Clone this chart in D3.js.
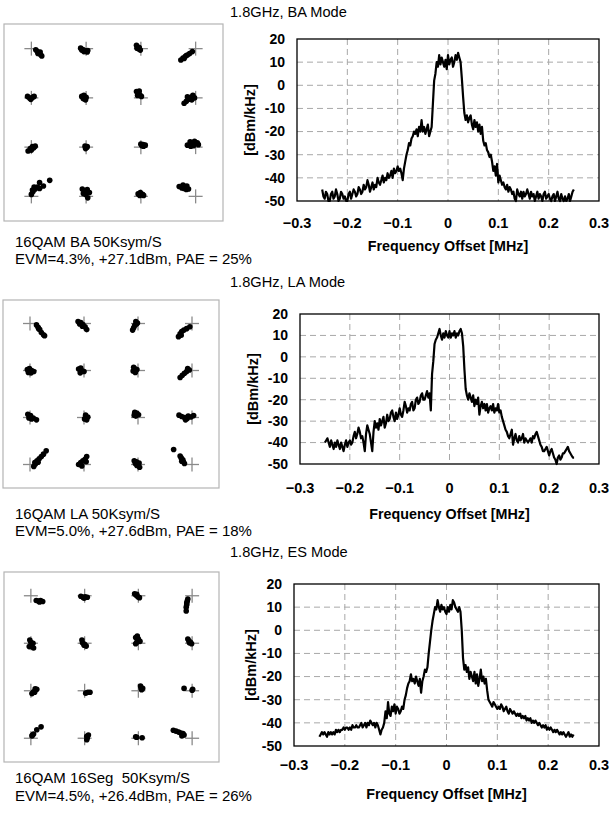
<!DOCTYPE html>
<html>
<head>
<meta charset="utf-8">
<script src="https://cdn.jsdelivr.net/npm/d3@7"></script>
<style>
  body { margin: 0; background: #fff; }
  svg { display: block; font-family: "Liberation Sans", Arial, sans-serif; }
</style>
</head>
<body>
<div id="chart"></div>
<script>
const width = 610;
const height = 816;

// frequency offset grid [MHz]
const freqMHz = [
  -0.2500,-0.2475,-0.2450,-0.2425,-0.2400,-0.2375,-0.2350,-0.2325,-0.2300,-0.2275,-0.2250,-0.2225,-0.2200,-0.2175,-0.2150,-0.2125,-0.2100,-0.2075,-0.2050,-0.2025,
  -0.2000,-0.1975,-0.1950,-0.1925,-0.1900,-0.1875,-0.1850,-0.1825,-0.1800,-0.1775,-0.1750,-0.1725,-0.1700,-0.1675,-0.1650,-0.1625,-0.1600,-0.1575,-0.1550,-0.1525,
  -0.1500,-0.1475,-0.1450,-0.1425,-0.1400,-0.1375,-0.1350,-0.1325,-0.1300,-0.1275,-0.1250,-0.1225,-0.1200,-0.1175,-0.1150,-0.1125,-0.1100,-0.1075,-0.1050,-0.1025,
  -0.1000,-0.0975,-0.0950,-0.0925,-0.0900,-0.0875,-0.0850,-0.0825,-0.0800,-0.0775,-0.0750,-0.0725,-0.0700,-0.0675,-0.0650,-0.0625,-0.0600,-0.0575,-0.0550,-0.0525,
  -0.0500,-0.0475,-0.0450,-0.0425,-0.0400,-0.0375,-0.0350,-0.0325,-0.0300,-0.0275,-0.0250,-0.0225,-0.0200,-0.0175,-0.0150,-0.0125,-0.0100,-0.0075,-0.0050,-0.0025,
  0.0000,0.0025,0.0050,0.0075,0.0100,0.0125,0.0150,0.0175,0.0200,0.0225,0.0250,0.0275,0.0300,0.0325,0.0350,0.0375,0.0400,0.0425,0.0450,0.0475,
  0.0500,0.0525,0.0550,0.0575,0.0600,0.0625,0.0650,0.0675,0.0700,0.0725,0.0750,0.0775,0.0800,0.0825,0.0850,0.0875,0.0900,0.0925,0.0950,0.0975,
  0.1000,0.1025,0.1050,0.1075,0.1100,0.1125,0.1150,0.1175,0.1200,0.1225,0.1250,0.1275,0.1300,0.1325,0.1350,0.1375,0.1400,0.1425,0.1450,0.1475,
  0.1500,0.1525,0.1550,0.1575,0.1600,0.1625,0.1650,0.1675,0.1700,0.1725,0.1750,0.1775,0.1800,0.1825,0.1850,0.1875,0.1900,0.1925,0.1950,0.1975,
  0.2000,0.2025,0.2050,0.2075,0.2100,0.2125,0.2150,0.2175,0.2200,0.2225,0.2250,0.2275,0.2300,0.2325,0.2350,0.2375,0.2400,0.2425,0.2450,0.2475,
  0.2500];

// spectra [dBm/kHz]
const psdBA = [
  -45,-48,-49,-46,-47,-50,-50,-47,-46,-49,-48,-45,-47,-50,-49,-46,-47,-49,-48,-50,
  -50,-47,-46,-49,-47,-45,-46,-48,-47,-44,-45,-47,-46,-43,-45,-44,-41,-43,-46,-44,
  -42,-45,-43,-44,-40,-42,-43,-41,-39,-42,-40,-41,-38,-40,-39,-37,-40,-36,-38,-37,
  -35,-37,-36,-38,-41,-36,-33,-30,-28,-25,-26,-23,-22,-20,-21,-19,-22,-18,-20,-15,
  -20,-18,-21,-19,-17,-22,-20,-18,-8,2,5,10,8,13,9,12,10,8,11,7,
  13,9,11,12,8,10,13,11,14,12,10,3,-5,-12,-15,-13,-16,-14,-13,-17,
  -19,-15,-18,-16,-20,-17,-21,-18,-24,-26,-25,-28,-29,-31,-30,-33,-37,-35,-39,-34,
  -42,-39,-41,-43,-42,-44,-45,-43,-46,-44,-45,-47,-46,-49,-50,-45,-47,-48,-46,-49,
  -46,-48,-47,-45,-47,-49,-46,-48,-47,-50,-48,-46,-49,-47,-48,-50,-47,-46,-49,-48,
  -47,-49,-50,-48,-47,-50,-48,-46,-49,-50,-47,-49,-50,-48,-50,-49,-47,-50,-48,-46,
  -45];

const psdLA = [
  -40,-39,-38,-40,-42,-39,-41,-43,-40,-42,-39,-41,-43,-40,-42,-44,-41,-39,-42,-40,
  -39,-41,-40,-37,-35,-38,-36,-33,-35,-38,-37,-40,-44,-36,-32,-34,-36,-40,-44,-35,
  -30,-33,-31,-34,-29,-32,-30,-28,-33,-31,-27,-30,-29,-26,-25,-28,-30,-26,-29,-27,
  -24,-27,-28,-25,-21,-23,-26,-24,-25,-22,-21,-25,-24,-20,-19,-22,-21,-18,-17,-20,
  -20,-18,-16,-19,-17,-25,-8,-2,6,8,9,11,13,10,8,11,9,12,10,9,
  12,9,11,10,12,9,11,10,12,13,11,5,-6,-15,-18,-20,-17,-19,-21,-18,
  -23,-20,-22,-19,-27,-23,-21,-24,-22,-25,-22,-26,-24,-23,-25,-22,-26,-24,-25,-22,
  -26,-25,-28,-30,-32,-34,-35,-37,-38,-36,-34,-41,-38,-36,-39,-40,-37,-39,-38,-36,
  -40,-38,-39,-40,-39,-38,-40,-37,-38,-36,-35,-37,-39,-41,-42,-44,-44,-43,-42,-44,
  -46,-44,-43,-45,-47,-48,-50,-47,-46,-48,-47,-45,-45,-44,-43,-42,-44,-45,-46,-47,
  -47];

const psdES = [
  -46,-45,-44,-45,-44,-45,-46,-44,-45,-44,-45,-44,-45,-43,-44,-43,-44,-43,-43,-42,
  -43,-42,-42,-43,-42,-43,-41,-42,-42,-41,-42,-42,-41,-40,-42,-41,-40,-42,-40,-41,
  -39,-40,-41,-40,-42,-40,-41,-43,-45,-43,-42,-40,-35,-38,-31,-36,-37,-33,-35,-32,
  -36,-33,-34,-36,-35,-33,-34,-30,-28,-25,-23,-22,-19,-22,-21,-23,-20,-22,-24,-21,
  -27,-22,-20,-17,-18,-16,-10,-5,0,4,7,10,9,13,10,8,11,9,10,8,
  7,10,8,11,9,13,12,10,9,8,10,8,0,-12,-17,-15,-18,-16,-21,-18,
  -20,-22,-18,-23,-19,-24,-21,-17,-22,-20,-23,-21,-26,-30,-31,-32,-33,-31,-32,-33,
  -34,-33,-34,-32,-33,-35,-34,-33,-35,-36,-34,-35,-36,-35,-36,-37,-36,-37,-36,-38,
  -37,-38,-37,-39,-38,-39,-38,-40,-39,-40,-39,-40,-41,-40,-41,-42,-41,-42,-41,-43,
  -42,-43,-42,-43,-44,-43,-44,-43,-44,-45,-44,-45,-44,-45,-46,-45,-44,-46,-45,-46,
  -45];

// ideal 16QAM levels
const qamLevels = [-3, -1, 1, 3];

// measured constellation symbols [I, Q]
const constBA = [
  [-2.84,2.95],[-2.78,2.88],[-2.72,2.82],[-2.66,2.75],[-2.62,2.70],[-2.76,2.80],[-2.68,2.86],
  [-1.20,3.02],[-1.12,2.96],[-1.04,2.92],[-0.96,2.86],[-1.08,2.88],[-0.94,2.92],[-1.16,2.94],
  [0.84,3.14],[0.88,3.06],[0.92,2.98],[0.98,2.94],[0.86,3.02],[0.94,3.04],
  [2.46,2.54],[2.54,2.62],[2.62,2.68],[2.70,2.74],[2.78,2.80],[2.88,2.88],[2.66,2.72],[2.58,2.60],
  [-3.14,1.06],[-3.06,0.98],[-2.96,1.02],[-2.90,1.06],[-3.02,0.94],
  [-1.16,1.06],[-1.08,1.10],[-1.00,1.02],[-1.10,0.96],[-1.02,0.92],
  [0.84,1.26],[0.90,1.20],[0.96,1.12],[1.02,1.06],[0.88,1.10],[0.94,1.28],
  [2.58,0.78],[2.66,0.86],[2.74,0.94],[2.82,1.02],[2.90,1.10],[2.70,1.04],[2.86,0.92],[2.96,1.00],
  [-3.12,-1.16],[-3.04,-1.06],[-2.96,-0.98],[-2.86,-0.96],[-2.92,-1.04],[-3.00,-1.12],
  [-1.04,-0.96],[-0.98,-1.02],[-1.02,-1.06],[-0.96,-0.98],
  [1.00,-0.88],[1.08,-0.90],[1.16,-0.92],[1.10,-0.96],[1.04,-0.94],
  [2.70,-0.92],[2.80,-0.78],[2.88,-0.84],[2.96,-0.76],[3.06,-0.82],[2.92,-0.94],[2.82,-0.96],[3.10,-0.90],
  [-3.00,-2.92],[-2.94,-2.80],[-2.86,-2.70],[-2.78,-2.62],[-2.90,-2.62],[-2.70,-2.68],[-2.96,-2.74],
  [-2.70,-2.44],[-2.56,-2.58],[-2.33,-2.35],
  [-1.14,-2.70],[-1.06,-2.78],[-0.96,-2.72],[-0.88,-2.84],[-1.02,-2.92],[-0.94,-3.06],[-1.10,-2.88],
  [0.90,-2.90],[0.98,-2.84],[1.06,-2.92],[0.96,-2.96],[1.10,-2.96],
  [2.40,-2.60],[2.50,-2.66],[2.58,-2.68],[2.66,-2.72],[2.74,-2.70],[2.68,-2.58],[2.54,-2.54]
];

const constLA = [
  [-2.76,2.94],[-2.70,2.84],[-2.64,2.74],[-2.58,2.62],[-2.50,2.52],[-2.46,2.48],[-2.68,2.78],
  [-1.22,3.08],[-1.12,3.04],[-1.04,2.96],[-0.96,2.86],[-0.90,2.74],[-1.06,2.88],[-1.16,2.98],
  [0.92,3.08],[0.98,3.02],[0.88,2.92],[0.84,2.82],[0.80,2.72],[0.94,2.98],
  [2.50,2.44],[2.56,2.56],[2.62,2.66],[2.70,2.72],[2.80,2.78],[2.92,2.86],[2.60,2.50],
  [-3.10,1.04],[-3.02,1.08],[-2.94,1.00],[-2.86,0.96],[-3.06,0.92],[-2.96,0.90],
  [-1.20,1.06],[-1.12,1.10],[-1.06,0.98],[-1.14,0.90],[-1.00,0.96],
  [0.84,1.14],[0.90,1.06],[0.82,0.98],[0.90,0.92],[0.96,1.04],
  [2.56,0.70],[2.64,0.80],[2.72,0.88],[2.80,0.96],[2.90,1.02],[2.84,1.08],
  [-3.08,-0.86],[-2.98,-0.92],[-2.88,-1.02],[-2.76,-1.10],[-3.04,-1.02],[-2.94,-1.06],
  [-0.94,-0.90],[-0.86,-0.98],[-0.90,-1.10],[-0.98,-1.06],
  [0.88,-0.78],[0.96,-0.82],[0.92,-0.94],[1.02,-0.88],[0.86,-0.90],
  [2.52,-0.90],[2.62,-0.96],[2.72,-1.00],[2.82,-1.04],[2.96,-0.98],[3.06,-0.92],[2.86,-0.94],[2.76,-1.10],
  [-2.86,-3.08],[-2.82,-2.92],[-2.74,-2.84],[-2.66,-2.76],[-2.58,-2.66],[-2.50,-2.56],[-2.40,-2.42],[-2.80,-2.98],[-2.70,-2.90],
  [-1.20,-3.00],[-1.12,-2.92],[-1.04,-2.84],[-0.92,-2.88],[-0.90,-2.66],[-0.96,-2.78],[-1.08,-3.06],
  [0.86,-2.84],[0.94,-2.88],[1.04,-2.94],[0.96,-3.04],[1.06,-3.12],[0.90,-2.96],
  [2.32,-2.36],[2.56,-2.64],[2.60,-2.72],[2.66,-2.80],[2.68,-2.88],[2.72,-2.96],[2.62,-2.86]
];

const constES = [
  [-2.80,2.80],[-2.72,2.78],[-2.64,2.80],[-2.56,2.76],[-2.68,2.74],
  [-1.14,2.98],[-1.06,2.94],[-0.98,2.96],[-0.90,2.94],[-1.02,2.90],
  [0.86,3.08],[0.92,3.02],[0.98,2.96],[1.04,2.92],[0.94,3.06],
  [2.84,2.86],[2.82,2.78],[2.80,2.70],[2.80,2.62],[2.78,2.52],[2.78,2.36],
  [-3.04,1.14],[-3.00,1.04],[-2.96,0.94],[-2.90,0.80],[-3.06,0.86],[-2.92,1.00],
  [-1.10,1.14],[-1.08,1.02],[-1.02,0.92],[-0.94,0.88],[-1.00,0.96],
  [0.90,1.24],[0.96,1.30],[1.00,1.18],[0.94,1.04],[0.90,0.98],[1.06,1.08],
  [2.84,1.18],[2.88,1.10],[2.94,1.04],[2.98,0.98],[2.90,1.02],
  [-2.96,-1.12],[-2.90,-1.04],[-2.84,-0.92],[-2.78,-0.94],[-2.86,-1.06],
  [-0.96,-1.10],[-0.88,-1.06],[-0.80,-1.06],
  [1.08,-0.80],[1.10,-0.88],[1.12,-0.96],[1.16,-0.90],
  [2.70,-0.90],[3.02,-0.94],[3.00,-0.98],
  [-2.94,-2.86],[-2.90,-2.82],[-2.78,-2.64],[-2.62,-2.52],[-2.96,-2.90],
  [-0.92,-2.92],[-0.90,-2.98],[-0.92,-3.06],[-0.86,-2.86],
  [0.94,-2.96],[0.90,-2.94],[1.14,-2.98],
  [2.30,-2.66],[2.40,-2.70],[2.50,-2.74],[2.58,-2.78],[2.66,-2.80],[2.70,-2.86],[2.62,-2.90]
];

const titles = ["1.8GHz, BA Mode", "1.8GHz, LA Mode", "1.8GHz, ES Mode"];
const captions = [
  ["16QAM BA 50Ksym/S", "EVM=4.3%, +27.1dBm, PAE = 25%"],
  ["16QAM LA 50Ksym/S", "EVM=5.0%, +27.6dBm, PAE = 18%"],
  ["16QAM 16Seg  50Ksym/S", "EVM=4.5%, +26.4dBm, PAE = 26%"]
];
const xTicks = [-0.3, -0.2, -0.1, 0, 0.1, 0.2, 0.3];
const yTicks = [20, 10, 0, -10, -20, -30, -40, -50];

const spectra = [psdBA, psdLA, psdES];
const constellations = [constBA, constLA, constES];

// page layout for the three rows
const layout = [
  {titleY: 17, box: [4, 24, 223, 221], plot: [297, 39, 599, 201], tickY: 228, xlabY: 251, ylabX: 250, capY: [247, 264]},
  {titleY: 287, box: [3, 300, 219, 488], plot: [300, 314, 599, 464], tickY: 493, xlabY: 519, ylabX: 253, capY: [519, 536]},
  {titleY: 557, box: [4, 572, 219, 762], plot: [294, 584, 599, 746], tickY: 770, xlabY: 799, ylabX: 251, capY: [783, 801]}
];

var svg = d3.select("#chart")
    .append("svg")
    .attr("width", width)
    .attr("height", height);

layout.forEach(function(L, i) {
    let g = svg.append("g");

    // title
    g.append("text")
        .attr("x", 230)
        .attr("y", L.titleY)
        .style("font-size", "14.6px")
        .text(titles[i]);

    // captions under the constellation
    captions[i].forEach(function(c, k) {
        g.append("text")
            .attr("x", 15)
            .attr("y", L.capY[k])
            .style("font-size", "15px")
            .style("white-space", "pre")
            .attr("xml:space", "preserve")
            .text(c);
    });

    // ---- constellation ----
    let [bx0, by0, bx1, by1] = L.box;
    let cx = d3.scaleLinear().domain([-4, 4]).range([bx0, bx1]);
    let cy = d3.scaleLinear().domain([-4, 4]).range([by1, by0]);

    g.append("rect")
        .attr("x", bx0).attr("y", by0)
        .attr("width", bx1 - bx0).attr("height", by1 - by0)
        .attr("fill", "none")
        .attr("stroke", "#b4b4b4")
        .attr("stroke-width", 1.2);

    let ideal = d3.cross(qamLevels, qamLevels);
    let crosses = g.append("g")
        .attr("stroke", "#8a8a8a")
        .attr("stroke-width", 1.3);
    crosses.selectAll("line.h")
        .data(ideal)
        .join("line")
        .attr("class", "h")
        .attr("x1", d => cx(d[0]) - 7).attr("x2", d => cx(d[0]) + 7)
        .attr("y1", d => cy(d[1])).attr("y2", d => cy(d[1]));
    crosses.selectAll("line.v")
        .data(ideal)
        .join("line")
        .attr("class", "v")
        .attr("x1", d => cx(d[0])).attr("x2", d => cx(d[0]))
        .attr("y1", d => cy(d[1]) - 7).attr("y2", d => cy(d[1]) + 7);

    g.append("g")
        .selectAll("circle")
        .data(constellations[i])
        .join("circle")
        .attr("cx", d => cx(d[0]))
        .attr("cy", d => cy(d[1]))
        .attr("r", 2.8)
        .attr("fill", "#000");

    // ---- spectrum ----
    let [px0, py0, px1, py1] = L.plot;
    let x = d3.scaleLinear().domain([-0.3, 0.3]).range([px0, px1]);
    let y = d3.scaleLinear().domain([-50, 20]).range([py1, py0]);

    let grid = g.append("g")
        .attr("stroke", "#a8a8a8")
        .attr("stroke-width", 1)
        .attr("stroke-dasharray", "6,4");
    grid.selectAll("line.gx")
        .data(xTicks.slice(1, -1))
        .join("line")
        .attr("class", "gx")
        .attr("x1", d => x(d)).attr("x2", d => x(d))
        .attr("y1", py0).attr("y2", py1);
    grid.selectAll("line.gy")
        .data(yTicks.slice(1, -1))
        .join("line")
        .attr("class", "gy")
        .attr("x1", px0).attr("x2", px1)
        .attr("y1", d => y(d)).attr("y2", d => y(d));

    let line = d3.line()
        .x((d, k) => x(freqMHz[k]))
        .y(d => y(d));

    g.append("path")
        .datum(spectra[i])
        .attr("d", line)
        .attr("fill", "none")
        .attr("stroke", "#000")
        .attr("stroke-width", 2.2)
        .attr("stroke-linejoin", "round");

    g.append("rect")
        .attr("x", px0).attr("y", py0)
        .attr("width", px1 - px0).attr("height", py1 - py0)
        .attr("fill", "none")
        .attr("stroke", "#000")
        .attr("stroke-width", 1.3);

    // tick labels
    g.selectAll("text.xt")
        .data(xTicks)
        .join("text")
        .attr("class", "xt")
        .attr("x", d => x(d))
        .attr("y", L.tickY)
        .attr("text-anchor", "middle")
        .style("font-size", "14.5px")
        .style("font-weight", "bold")
        .text(d => d3.format("")(d));

    g.selectAll("text.yt")
        .data(yTicks)
        .join("text")
        .attr("class", "yt")
        .attr("x", px0 - 12)
        .attr("y", d => y(d))
        .attr("dy", "0.35em")
        .attr("text-anchor", "end")
        .style("font-size", "14px")
        .style("font-weight", "bold")
        .text(d => d);

    g.append("text")
        .attr("x", (px0 + px1) / 2)
        .attr("y", L.xlabY)
        .attr("text-anchor", "middle")
        .style("font-size", "14.3px")
        .style("font-weight", "bold")
        .text("Frequency Offset [MHz]");

    g.append("text")
        .attr("transform", "translate(" + L.ylabX + "," + ((py0 + py1) / 2) + ") rotate(-90)")
        .attr("dy", "0.35em")
        .attr("text-anchor", "middle")
        .style("font-size", "14.5px")
        .style("font-weight", "bold")
        .text("[dBm/kHz]");
});
</script>
</body>
</html>
